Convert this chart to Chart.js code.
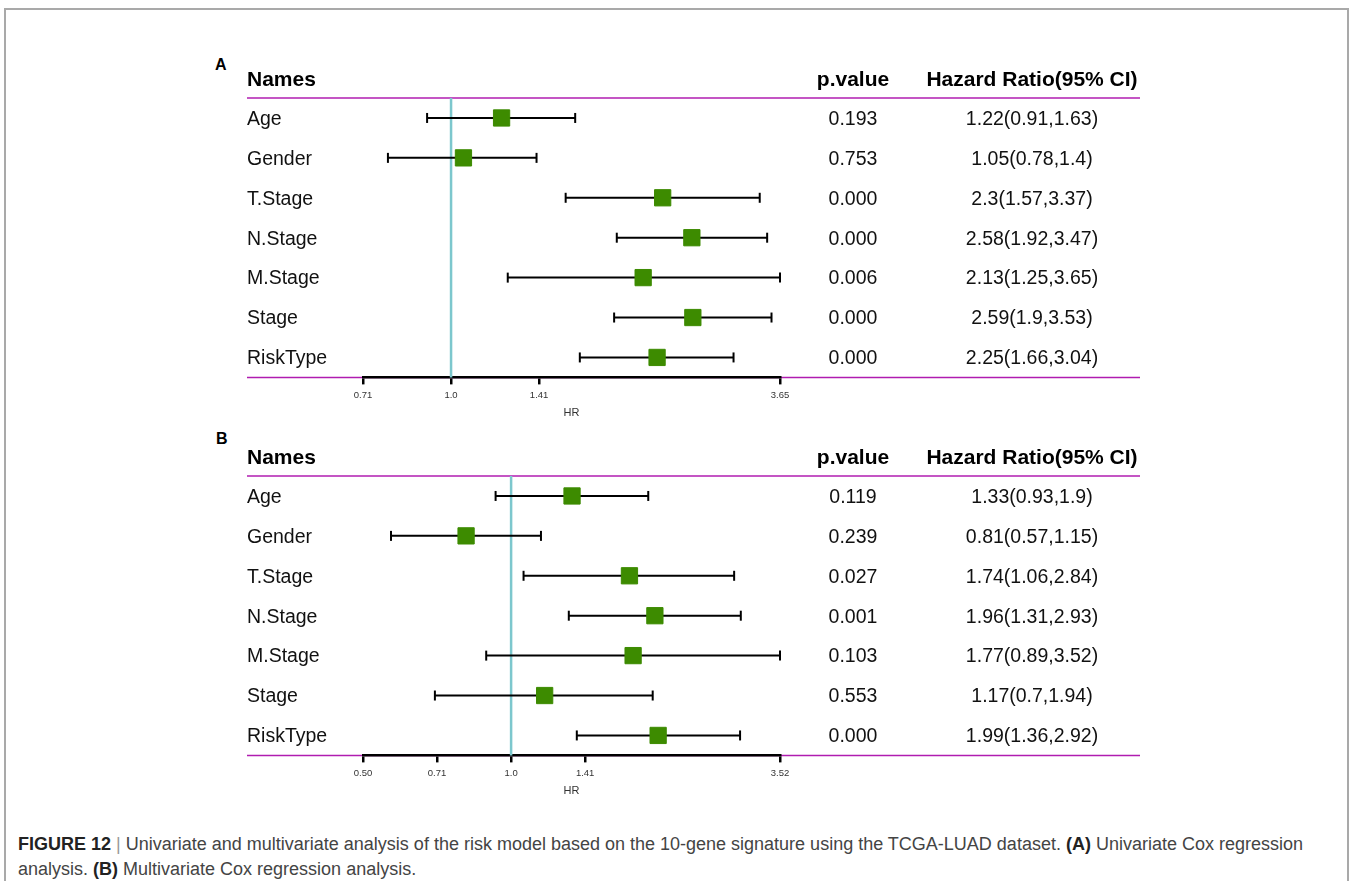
<!DOCTYPE html>
<html>
<head>
<meta charset="utf-8">
<title>Forest plots: univariate and multivariate Cox regression</title>
<script src="https://cdn.jsdelivr.net/npm/chart.js@4.4.1/dist/chart.umd.min.js"></script>
<style>
  html, body { margin: 0; padding: 0; background: #fff; width: 1352px; height: 881px; overflow: hidden;
    font-family: "Liberation Sans", Arial, Helvetica, sans-serif; }
  .frame { position: absolute; left: 4px; top: 8px; width: 1345px; height: 900px;
    border: 2px solid #a9a9a9; box-sizing: border-box; }
  .panel { position: absolute; left: 200px; width: 960px; height: 385px; }
  .tag { position: absolute; font-weight: bold; font-size: 16px; color: #000; line-height: 1; }
  .caption { position: absolute; left: 18px; top: 832px; font-size: 18px; line-height: 25px; color: #444;
    white-space: nowrap; }
  .caption b { color: #222; }
  .caption .sep { color: #999; }
</style>
</head>
<body>
<div class="frame"></div>
<div class="tag" style="left:215px; top:57px;">A</div>
<div class="tag" style="left:216px; top:431px;">B</div>
<div class="panel" style="top:40px;"><canvas id="uniChart" width="960" height="385"></canvas></div>
<div class="panel" style="top:418px;"><canvas id="multiChart" width="960" height="385"></canvas></div>
<div class="caption">
  <b>FIGURE 12</b> <span class="sep">|</span> Univariate and multivariate analysis of the risk model based on the 10-gene signature using the TCGA-LUAD dataset. <b>(A)</b> Univariate Cox regression<br>analysis. <b>(B)</b> Multivariate Cox regression analysis.
</div>

<script>
// Variables shown in both tables
const rowNames = ['Age', 'Gender', 'T.Stage', 'N.Stage', 'M.Stage', 'Stage', 'RiskType'];

// Univariate Cox regression (panel A)
const uniHR   = [1.22, 1.05, 2.3, 2.58, 2.13, 2.59, 2.25];
const uniLow  = [0.91, 0.78, 1.57, 1.92, 1.25, 1.9, 1.66];
const uniHigh = [1.63, 1.4, 3.37, 3.47, 3.65, 3.53, 3.04];
const uniP    = ['0.193', '0.753', '0.000', '0.000', '0.006', '0.000', '0.000'];
const uniTicks      = [0.7071, 1, 1.4142, 3.65];
const uniTickLabels = ['0.71', '1.0', '1.41', '3.65'];

// Multivariate Cox regression (panel B)
const multiHR   = [1.33, 0.81, 1.74, 1.96, 1.77, 1.17, 1.99];
const multiLow  = [0.93, 0.57, 1.06, 1.31, 0.89, 0.7, 1.36];
const multiHigh = [1.9, 1.15, 2.84, 2.93, 3.52, 1.94, 2.92];
const multiP    = ['0.119', '0.239', '0.027', '0.001', '0.103', '0.553', '0.000'];
const multiTicks      = [0.5, 0.7071, 1, 1.4142, 3.52];
const multiTickLabels = ['0.50', '0.71', '1.0', '1.41', '3.52'];

// Column headers
const headNames = 'Names';
const headP = 'p.value';
const headHR = 'Hazard Ratio(95% CI)';

// Layout of the text columns inside each canvas (px)
const COL_NAME_X = 47;
const COL_P_X = 653;
const COL_HR_X = 832;
const RULE_END_X = 940;

const FONT = '"Liberation Sans", Arial, Helvetica, sans-serif';
const GREEN = '#3d8b00';
const CYAN = '#7cc7cd';
const PURPLE = '#b01cb0';

function tablePlugin(names, pvals, hr, low, high) {
  return {
    id: 'forestTable',
    beforeDraw(chart) {
      const { ctx } = chart;
      const y = chart.scales.y;
      ctx.save();
      ctx.strokeStyle = PURPLE;
      ctx.lineWidth = 1.5;
      [0.5, names.length + 0.5].forEach(v => {
        const py = y.getPixelForValue(v);
        ctx.beginPath();
        ctx.moveTo(COL_NAME_X, py);
        ctx.lineTo(RULE_END_X, py);
        ctx.stroke();
      });
      ctx.restore();
    },
    afterDatasetsDraw(chart) {
      const { ctx } = chart;
      const y = chart.scales.y;
      ctx.save();
      ctx.textBaseline = 'middle';
      ctx.fillStyle = '#000';
      // header row
      const hy = y.getPixelForValue(0) + 2;
      ctx.font = 'bold 21px ' + FONT;
      ctx.textAlign = 'left';
      ctx.fillText(headNames, COL_NAME_X, hy);
      ctx.textAlign = 'center';
      ctx.fillText(headP, COL_P_X, hy);
      ctx.fillText(headHR, COL_HR_X, hy);
      // body rows
      ctx.font = '19.5px ' + FONT;
      ctx.fillStyle = '#111';
      names.forEach((n, i) => {
        const py = y.getPixelForValue(i + 1) + 1.5;
        ctx.textAlign = 'left';
        ctx.fillText(n, COL_NAME_X, py);
        ctx.textAlign = 'center';
        ctx.fillText(pvals[i], COL_P_X, py);
        ctx.fillText(`${hr[i]}(${low[i]},${high[i]})`, COL_HR_X, py);
      });
      ctx.restore();
    }
  };
}

function forestChart(canvasId, hr, low, high, pvals, tickVals, tickLabels) {
  const n = rowNames.length;
  const datasets = [];

  // reference line at HR = 1
  datasets.push({
    data: [{ x: 1, y: 0.5 }, { x: 1, y: n + 0.5 }],
    showLine: true, borderColor: CYAN, borderWidth: 2.5, pointRadius: 0, order: 5, clip: false
  });

  // confidence-interval whiskers, one per row
  rowNames.forEach((_, i) => {
    datasets.push({
      data: [{ x: low[i], y: i + 1 }, { x: high[i], y: i + 1 }],
      showLine: true, borderColor: '#000', borderWidth: 2, pointRadius: 0, order: 4, clip: false
    });
  });

  // whisker end caps
  datasets.push({
    data: rowNames.flatMap((_, i) => [{ x: low[i], y: i + 1 }, { x: high[i], y: i + 1 }]),
    pointStyle: 'line', pointRotation: 90, rotation: 90, pointRadius: 5,
    pointBorderColor: '#000', borderColor: '#000', pointBorderWidth: 2, borderWidth: 2,
    order: 3, clip: false
  });

  // hazard-ratio squares
  datasets.push({
    data: rowNames.map((_, i) => ({ x: hr[i], y: i + 1 })),
    pointStyle: 'rect', pointRadius: 11.5,
    pointBackgroundColor: GREEN, backgroundColor: GREEN,
    pointBorderColor: GREEN, borderColor: GREEN, pointBorderWidth: 1, borderWidth: 1,
    order: 1, clip: false
  });

  return new Chart(document.getElementById(canvasId), {
    type: 'scatter',
    data: { datasets },
    options: {
      responsive: false,
      animation: false,
      events: [],
      layout: { padding: { left: 163, right: 380, top: 58, bottom: 5 } },
      plugins: { legend: { display: false }, tooltip: { enabled: false } },
      scales: {
        x: {
          type: 'logarithmic',
          bounds: 'data',
          min: tickVals[0],
          max: tickVals[tickVals.length - 1],
          afterBuildTicks(scale) { scale.ticks = tickVals.map(v => ({ value: v })); },
          grid: { display: true, drawOnChartArea: false, drawTicks: true, tickLength: 7,
                  tickColor: '#000', tickWidth: 2.5, color: '#000', lineWidth: 2.5 },
          border: { display: true, color: '#000', width: 2.5 },
          ticks: {
            autoSkip: false, maxRotation: 0, minRotation: 0, padding: 5.5, color: '#333',
            font: { family: FONT, size: 9.5 },
            callback: (v, i) => tickLabels[i]
          },
          title: { display: true, text: 'HR', color: '#333', font: { family: FONT, size: 11 },
                   padding: { top: 0, bottom: 0 } }
        },
        y: {
          type: 'linear', reverse: true, bounds: 'data',
          min: 0.5, max: n + 0.5, display: false
        }
      }
    },
    plugins: [tablePlugin(rowNames, pvals, hr, low, high)]
  });
}

forestChart('uniChart', uniHR, uniLow, uniHigh, uniP, uniTicks, uniTickLabels);
forestChart('multiChart', multiHR, multiLow, multiHigh, multiP, multiTicks, multiTickLabels);
</script>
</body>
</html>
